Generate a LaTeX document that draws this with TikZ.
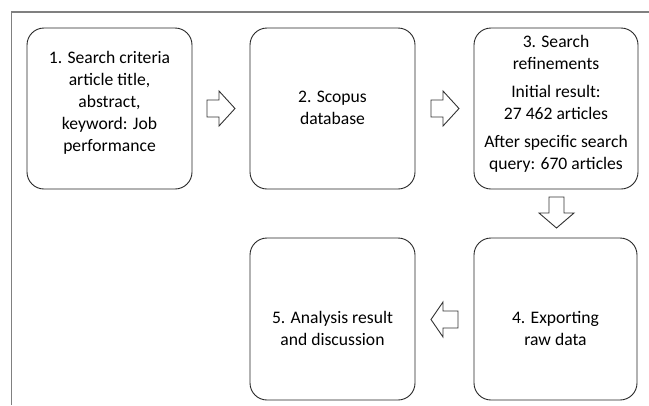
\documentclass[tikz,border=0pt]{standalone}
\usepackage{fontspec}
\setmainfont{Carlito}
\begin{document}
\begin{tikzpicture}[x=1bp,y=-1bp,
  stepbox/.style={draw=black!85,line width=0.9bp,rounded corners=17bp},
  boxtext/.style={align=center,font=\fontsize{17.6bp}{22bp}\selectfont,inner sep=0pt},
  blockarrow/.style={draw=black!80,line width=0.9bp,fill=white,line join=miter},
  frameline/.style={draw=black!50,line width=1.3bp}]
\useasboundingbox (0,0) rectangle (649,405);
% outer frame
\coordinate (ftr) at (649,12);
\coordinate (ftl) at (11.5,12);
\coordinate (fbl) at (11.5,405);
\draw[frameline] (ftr) -- (ftl) -- (fbl);
% boxes
\draw[stepbox] (27,28) rectangle (192,189);
\draw[stepbox] (250,28) rectangle (415,189);
\draw[stepbox] (474,28) rectangle (638,189);
\draw[stepbox] (474,238) rectangle (637,400);
\draw[stepbox] (250,238) rectangle (415,400);
% texts
\node[boxtext] (t1) at (109.5,103) {1. Search criteria\\article title,\\abstract,\\keyword: Job\\performance};
\node[boxtext] (t2) at (332.5,108) {2. Scopus\\database};
\node[boxtext] (t3) at (556,104) {3. Search\\refinements\\[6bp]Initial result:\\27 462 articles\\[6bp]After specific search\\query: 670 articles};
\node[boxtext] (t4) at (555.5,328) {4. Exporting\\raw data};
\node[boxtext] (t5) at (332.5,328) {5. Analysis result\\and discussion};
% block arrows
\draw[blockarrow] (207,100) -- (219,100) -- (219,91) -- (235,108.5) -- (219,126) -- (219,117) -- (207,117) -- cycle;
\draw[blockarrow] (431,100) -- (443,100) -- (443,91) -- (459,108.5) -- (443,126) -- (443,117) -- (431,117) -- cycle;
\draw[blockarrow] (549,197) -- (549,213) -- (539,213) -- (556.5,228) -- (574,213) -- (564,213) -- (564,197) -- cycle;
\draw[blockarrow] (458,311) -- (443,311) -- (443,302) -- (431,319.5) -- (443,337) -- (443,328) -- (458,328) -- cycle;
\end{tikzpicture}
\end{document}
